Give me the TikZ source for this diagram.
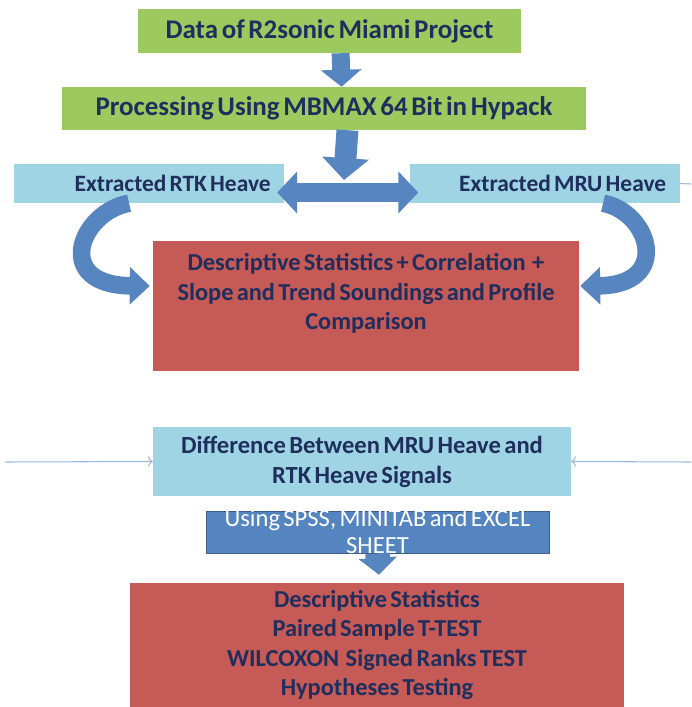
\documentclass[tikz,border=0pt]{standalone}
\usepackage{fontspec}
\setmainfont{Carlito}[WordSpace=0.6]
\usetikzlibrary{positioning, arrows.meta}

\definecolor{stepgreen}{HTML}{9DCA5E}
\definecolor{heaveblue}{HTML}{9ED4E3}
\definecolor{resred}{HTML}{C55A56}
\definecolor{arrowblue}{HTML}{5685C0}
\definecolor{toolblue}{HTML}{5585C1}
\definecolor{navy}{HTML}{1F2E5C}
\definecolor{thinblue}{HTML}{9BB8E0}

\begin{document}
\begin{tikzpicture}[
    x=0.03cm, y=-0.03cm,
    greenbox/.style={rectangle, fill=stepgreen, text=navy, inner sep=0pt,
                     font=\bfseries\fontsize{23}{26}\selectfont},
    heavebox/.style={rectangle, fill=heaveblue, text=navy, inner xsep=0.4cm, inner ysep=0pt,
                     minimum width=8.1cm, minimum height=1.17cm,
                     text width=7.3cm, align=flush right, font=\bfseries\fontsize{20}{23}\selectfont},
    diffbox/.style={rectangle, fill=heaveblue, text=navy, inner sep=0pt,
                    align=center, font=\bfseries\fontsize{21}{25.5}\selectfont},
    resultbox/.style={rectangle, fill=resred, text=navy, inner sep=0pt,
                      align=center, font=\bfseries\fontsize{20.8}{24.8}\selectfont},
    toolbox/.style={rectangle, fill=toolblue, draw=toolblue!70!black, thick, inner sep=0pt},
    tooltext/.style={text=white, align=center, font=\fontsize{21}{23}\selectfont},
    bigarrow/.style={arrowblue, line width=15.3pt, -{Triangle[width=34pt, length=14.5pt]}},
    curvearrow/.style={arrowblue, line width=15pt, -{Triangle[width=31pt, length=17pt]}},
    thinarrow/.style={thinblue, line width=0.9pt, -{To[length=4pt, width=9pt]}}
  ]
    \useasboundingbox (0,0) rectangle (691,707);

    % Input and processing
    \node[greenbox, minimum width=11.49cm, minimum height=1.32cm] (data) at (329.5, 31) {Data of R2sonic Miami Project};
    \node[greenbox, minimum width=15.72cm, minimum height=1.29cm] (proc) at (324, 108.5) {Processing Using MBMAX 64 Bit in Hypack};

    % Extracted heave signals
    \node[heavebox] (rtk) at (149, 183.5) {Extracted RTK Heave};
    \node[heavebox] (mru) at (544.5, 183.5) {Extracted MRU Heave};

    % First comparison
    \node[resultbox, minimum width=12.78cm, minimum height=3.9cm] (stats) at (366, 306)
      {Descriptive Statistics + Correlation~ +\\Slope and Trend Soundings and Profile\\Comparison\\\mbox{}};

    % Difference signal
    \node[diffbox, minimum width=12.54cm, minimum height=2.07cm] (diff) at (362, 461.5)
      {Difference Between MRU Heave and\\RTK Heave Signals};
    \node[toolbox, minimum width=10.29cm, minimum height=1.26cm,
          label={[tooltext]center:Using SPSS, MINITAB and EXCEL\\SHEET}] (tools) at (377.5, 532) {};

    % Final tests
    \node[resultbox, minimum width=14.82cm, minimum height=3.72cm] (final) at (377, 645)
      {Descriptive Statistics\\Paired Sample T-TEST\\WILCOXON~ Signed Ranks TEST\\Hypotheses Testing};

    % Block arrows
    \coordinate (split) at (344, 180);
    \draw[bigarrow] ([xshift=9.5]data.south) -- ([xshift=15]proc.north);
    \draw[bigarrow, line width=18.7pt, -{Triangle[width=39pt, length=18.7pt]}] ([xshift=20]proc.south) -- (split);
    \draw[arrowblue, line width=17pt, {Triangle[width=35pt, length=17pt]}-{Triangle[width=35pt, length=17pt]}]
      ([shift={(-7,9)}]rtk.east) -- ([shift={(9,9)}]mru.west);
    \draw[bigarrow, line width=21pt, -{Triangle[width=32pt, length=14.5pt]}] (tools.south) -- ([shift={(2,-8)}]final.north);

    % Curved arrows
    \draw[curvearrow] ([xshift=-17]rtk.south) .. controls (80, 212) and (52, 285) .. ([shift={(-3,-20)}]stats.west);
    \draw[curvearrow] ([xshift=50]mru.south) .. controls (650, 212) and (672, 285) .. ([shift={(1,-20)}]stats.east);

    % Thin connectors
    \coordinate (leftend) at (5, 462);
    \coordinate (rightend) at (691, 462);
    \coordinate (mruend) at (691, 184);
    \draw[thinarrow] (leftend) -- (diff.west);
    \draw[thinarrow] (rightend) -- (diff.east);
    \draw[thinblue, line width=0.9pt] (mru.east) -- (mruend);

  \end{tikzpicture}
\end{document}
